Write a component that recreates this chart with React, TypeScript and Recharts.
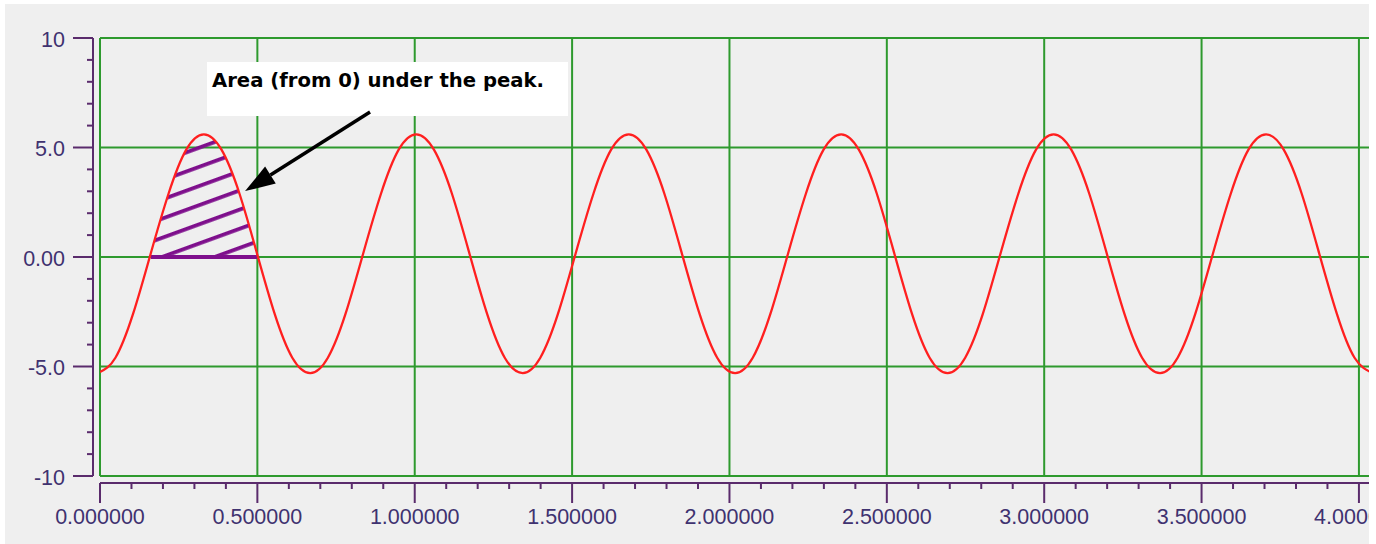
import React from "react";
import {
  ComposedChart,
  Line,
  Area,
  XAxis,
  YAxis,
  CartesianGrid,
  ReferenceLine,
  ReferenceArea,
} from "recharts";

// ---- data ----
const xValues = [
  0.0,
  0.049, 0.105, 0.161, 0.218, 0.274, 0.330, 0.386, 0.443, 0.499, 0.555, 0.611, 0.668,
  0.724, 0.780, 0.836, 0.893, 0.949, 1.005, 1.061, 1.118, 1.174, 1.230, 1.286, 1.343,
  1.399, 1.455, 1.511, 1.568, 1.624, 1.680, 1.736, 1.793, 1.849, 1.905, 1.961, 2.018,
  2.074, 2.130, 2.186, 2.243, 2.299, 2.355, 2.411, 2.468, 2.524, 2.580, 2.636, 2.693,
  2.749, 2.805, 2.861, 2.918, 2.974, 3.030, 3.086, 3.143, 3.199, 3.255, 3.311, 3.368,
  3.424, 3.480, 3.536, 3.593, 3.649, 3.705, 3.761, 3.818, 3.874, 3.930, 3.986, 4.043,
];
const signalValues = [
  -5.25,
  -4.6, -2.6, 0.15, 2.9, 4.9, 5.6, 4.9, 2.9, 0.15, -2.6, -4.6, -5.3,
  -4.6, -2.6, 0.15, 2.9, 4.9, 5.6, 4.9, 2.9, 0.15, -2.6, -4.6, -5.3,
  -4.6, -2.6, 0.15, 2.9, 4.9, 5.6, 4.9, 2.9, 0.15, -2.6, -4.6, -5.3,
  -4.6, -2.6, 0.15, 2.9, 4.9, 5.6, 4.9, 2.9, 0.15, -2.6, -4.6, -5.3,
  -4.6, -2.6, 0.15, 2.9, 4.9, 5.6, 4.9, 2.9, 0.15, -2.6, -4.6, -5.3,
  -4.6, -2.6, 0.15, 2.9, 4.9, 5.6, 4.9, 2.9, 0.15, -2.6, -4.6, -5.3,
];
// the shaded peak (area from 0)
const hatchStart = 0.161;
const hatchEnd = 0.499;

const xTicks = [
  0, 0.1, 0.2, 0.3, 0.4, 0.5, 0.6, 0.7, 0.8, 0.9, 1.0, 1.1, 1.2, 1.3, 1.4, 1.5,
  1.6, 1.7, 1.8, 1.9, 2.0, 2.1, 2.2, 2.3, 2.4, 2.5, 2.6, 2.7, 2.8, 2.9, 3.0, 3.1,
  3.2, 3.3, 3.4, 3.5, 3.6, 3.7, 3.8, 3.9, 4.0,
];
const xMajor = [0, 0.5, 1.0, 1.5, 2.0, 2.5, 3.0, 3.5, 4.0];
const yTicks = [
  -10, -9, -8, -7, -6, -5, -4, -3, -2, -1, 0, 1, 2, 3, 4, 5, 6, 7, 8, 9, 10,
];
const yMajor = [-10, -5, 0, 5, 10];
const yTickLabels: Record<string, string> = {
  "10": "10",
  "5": "5.0",
  "0": "0.00",
  "-5": "-5.0",
  "-10": "-10",
};
const annotationText = "Area (from 0) under the peak.";

// ---- styles ----
const GRID = "#2e9a2e";
const AXIS = "#5a2b6c";
const LABEL = "#3f3270";
const RED = "#ff1f1f";
const HATCH = "#7e0f8c";
const FONT = "'Liberation Sans', Arial, sans-serif";

const data = xValues.map((x, i) => ({
  x,
  y: signalValues[i],
  hatch: x >= hatchStart - 1e-9 && x <= hatchEnd + 1e-9 ? signalValues[i] : null,
}));

const isMajor = (v: number, list: number[]) =>
  list.some((m) => Math.abs(m - v) < 1e-6);

const XTick = (props: any) => {
  const { x, y, payload } = props;
  const v = payload.value as number;
  const major = isMajor(v, xMajor);
  return (
    <g>
      <line
        x1={x}
        x2={x}
        y1={y + 7}
        y2={y + 7 + (major ? 20 : 6)}
        stroke={AXIS}
        strokeWidth={2}
      />
      {major && (
        <text
          x={x}
          y={y + 48}
          textAnchor="middle"
          fill={LABEL}
          fontFamily={FONT}
          fontSize={21.5}
        >
          {v.toFixed(6)}
        </text>
      )}
    </g>
  );
};

const YTick = (props: any) => {
  const { x, y, payload } = props;
  const v = payload.value as number;
  const major = isMajor(v, yMajor);
  return (
    <g>
      <line
        x1={x - 7}
        x2={x - 7 - (major ? 20 : 6)}
        y1={y}
        y2={y}
        stroke={AXIS}
        strokeWidth={2}
      />
      {major && (
        <text
          x={x - 35}
          y={y + 8.5}
          textAnchor="end"
          fill={LABEL}
          fontFamily={FONT}
          fontSize={21.5}
        >
          {yTickLabels[String(Math.round(v))]}
        </text>
      )}
    </g>
  );
};

const ArrowShape = (props: any) => {
  const { x1, y1, x2, y2 } = props;
  const dx = x2 - x1;
  const dy = y2 - y1;
  const len = Math.sqrt(dx * dx + dy * dy) || 1;
  const ux = dx / len;
  const uy = dy / len;
  const headLen = 30;
  const headHalf = 10;
  const bx = x2 - ux * headLen;
  const by = y2 - uy * headLen;
  const px = -uy;
  const py = ux;
  return (
    <g>
      <line x1={x1} y1={y1} x2={bx} y2={by} stroke="#000" strokeWidth={3.5} />
      <polygon
        points={`${x2},${y2} ${bx + px * headHalf},${by + py * headHalf} ${
          bx - px * headHalf
        },${by - py * headHalf}`}
        fill="#000"
      />
    </g>
  );
};

const BoxLabel = (props: any) => {
  const vb = props.viewBox || {};
  return (
    <text
      x={vb.x + 5}
      y={vb.y + 25}
      fill="#000"
      fontFamily="'DejaVu Sans', Verdana, sans-serif"
      fontWeight="bold"
      fontSize={19.5}
      textLength={332}
      lengthAdjust="spacingAndGlyphs"
    >
      {annotationText}
    </text>
  );
};

export default function App() {
  return (
    <div
      style={{
        position: "absolute",
        left: 0,
        top: 0,
        width: 1376,
        height: 544,
        background: "#ffffff",
        overflow: "hidden",
      }}
    >
      <div
        style={{
          position: "absolute",
          left: 5,
          top: 4,
          width: 1364,
          height: 540,
          background: "#efefef",
        }}
      />
      <div style={{ position: "absolute", left: 0, top: 0 }}>
        <ComposedChart
          width={1369}
          height={544}
          data={data}
          margin={{ top: 38, right: 0, bottom: 0, left: 0 }}
        >
          <defs>
            <pattern
              id="hatch"
              patternUnits="userSpaceOnUse"
              width={12}
              height={18}
              patternTransform="rotate(-20)"
            >
              <rect x={0} y={7} width={12} height={3.8} fill={HATCH} />
            </pattern>
          </defs>
          <CartesianGrid
            stroke={GRID}
            strokeWidth={2}
            horizontalValues={yMajor}
            verticalValues={xMajor}
          />
          <XAxis
            dataKey="x"
            type="number"
            domain={[0, 4.032]}
            allowDataOverflow
            ticks={xTicks}
            interval={0}
            tick={<XTick />}
            tickLine={false}
            tickSize={0}
            tickMargin={0}
            height={68}
            axisLine={{ stroke: AXIS, strokeWidth: 2, transform: "translate(0,7)" }}
          />
          <YAxis
            type="number"
            domain={[-10, 10]}
            ticks={yTicks}
            interval={0}
            tick={<YTick />}
            tickLine={false}
            tickSize={0}
            tickMargin={0}
            width={100}
            axisLine={{ stroke: AXIS, strokeWidth: 2, transform: "translate(-7,0)" }}
          />
          <Area
            dataKey="hatch"
            type="natural"
            baseValue={0}
            fill="url(#hatch)"
            fillOpacity={1}
            stroke="none"
            isAnimationActive={false}
            connectNulls={false}
            dot={false}
            activeDot={false}
          />
          <ReferenceLine
            segment={[
              { x: hatchStart, y: 0 },
              { x: hatchEnd, y: 0 },
            ]}
            stroke={HATCH}
            strokeWidth={3.8}
          />
          <Line
            dataKey="y"
            type="natural"
            stroke={RED}
            strokeWidth={2.3}
            dot={false}
            activeDot={false}
            isAnimationActive={false}
          />
          <ReferenceArea
            x1={0.34}
            x2={1.487}
            y1={6.44}
            y2={8.9}
            fill="#ffffff"
            fillOpacity={1}
            stroke="none"
            label={<BoxLabel />}
          />
          <ReferenceLine
            segment={[
              { x: 0.858, y: 6.62 },
              { x: 0.461, y: 3.01 },
            ]}
            shape={<ArrowShape />}
          />
        </ComposedChart>
      </div>
    </div>
  );
}
